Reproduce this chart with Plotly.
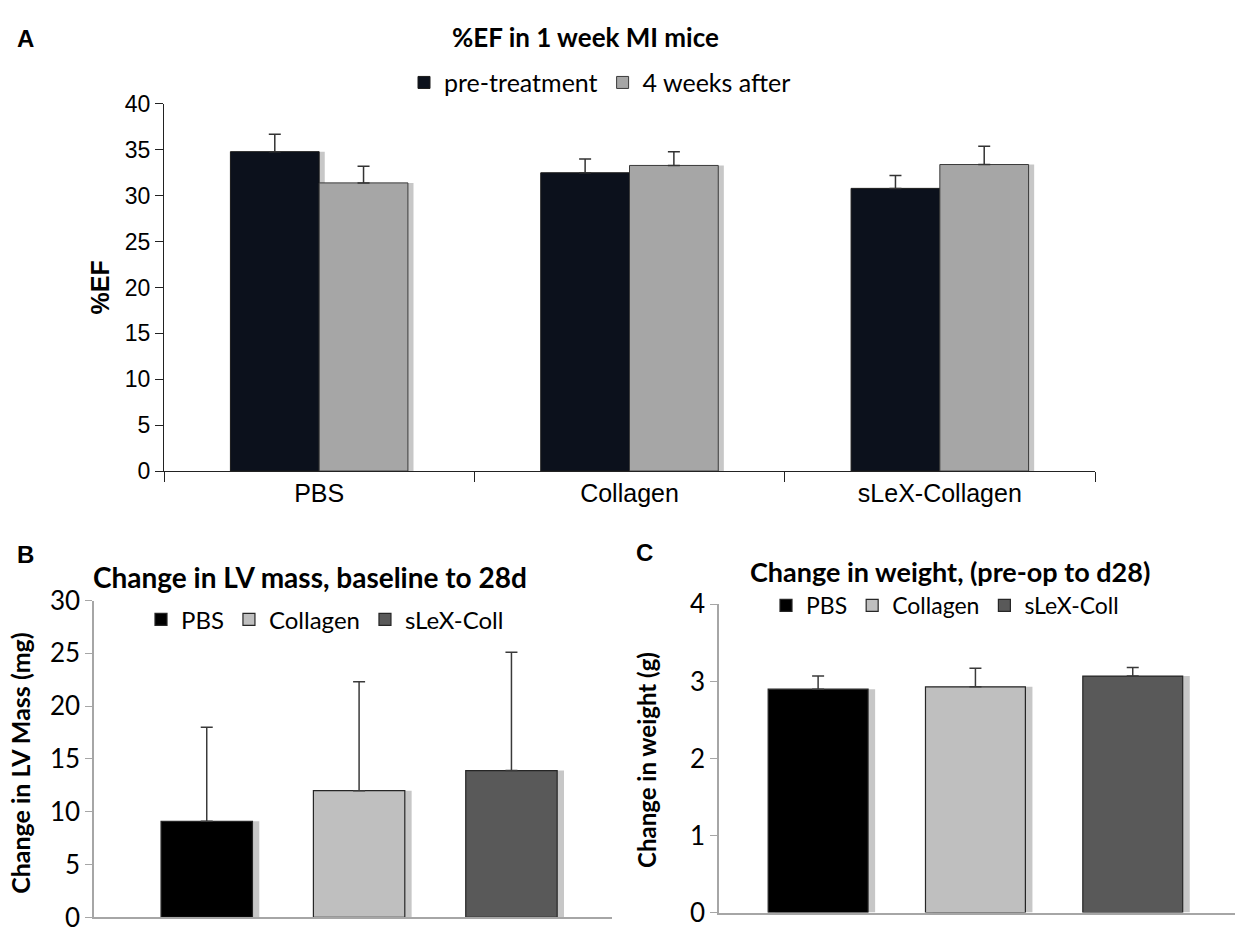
import plotly.graph_objects as go

W, H = 1243, 944

# ---- data ----
a_categories = ["PBS", "Collagen", "sLeX-Collagen"]
a_pre = [34.8, 32.5, 30.8]
a_pre_err = [1.9, 1.5, 1.4]
a_after = [31.4, 33.3, 33.4]
a_after_err = [1.8, 1.5, 2.0]

bc_groups = ["PBS", "Collagen", "sLeX-Coll"]
b_values = [9.1, 12.0, 13.9]
b_err = [8.9, 10.3, 11.2]
c_values = [2.90, 2.93, 3.07]
c_err = [0.17, 0.24, 0.11]

a_yticks = [0, 5, 10, 15, 20, 25, 30, 35, 40]
b_yticks = [0, 5, 10, 15, 20, 25, 30]
c_yticks = [0, 1, 2, 3, 4]


def fx(px):
    return px / W


def fy(py):
    return 1 - py / H


fig = go.Figure()
shadow = "rgba(0,0,0,0.22)"

# ---- Panel A ----
a_w = 0.286
for vals, off in ((a_pre, -a_w), (a_after, 0)):
    fig.add_trace(go.Bar(
        x=a_categories, y=vals, width=a_w, offset=off + 0.018,
        marker=dict(color=shadow, line=dict(width=0)), showlegend=False,
        hoverinfo="skip", xaxis="x", yaxis="y",
    ))
fig.add_trace(go.Bar(
    x=a_categories, y=a_pre, name="pre-treatment", width=a_w, offset=-a_w,
    marker=dict(color="#0c111c", line=dict(color="#1a1a1a", width=1)),
    error_y=dict(type="data", array=a_pre_err, arrayminus=[0] * 3, symmetric=False,
                 color="#333333", thickness=1.5, width=6),
    xaxis="x", yaxis="y", legend="legend",
))
fig.add_trace(go.Bar(
    x=a_categories, y=a_after, name="4 weeks after", width=a_w, offset=0,
    marker=dict(color="#a6a6a6", line=dict(color="#3a3a3a", width=1)),
    error_y=dict(type="data", array=a_after_err, arrayminus=[0] * 3, symmetric=False,
                 color="#333333", thickness=1.5, width=6),
    xaxis="x", yaxis="y", legend="legend",
))

# ---- Panels B and C ----
bc_colors = ["#000000", "#bfbfbf", "#595959"]
b_w = 0.6
c_w = 0.635
for vals, w, xa, ya in ((b_values, b_w, "x2", "y2"), (c_values, c_w, "x3", "y3")):
    fig.add_trace(go.Bar(
        x=bc_groups, y=vals, width=w, offset=-w / 2 + 0.045,
        marker=dict(color=shadow, line=dict(width=0)), showlegend=False,
        hoverinfo="skip", xaxis=xa, yaxis=ya,
    ))
for i, g in enumerate(bc_groups):
    fig.add_trace(go.Bar(
        x=[g], y=[b_values[i]], name=g, width=b_w, offset=-b_w / 2,
        marker=dict(color=bc_colors[i], line=dict(color="#262626", width=1.2)),
        error_y=dict(type="data", array=[b_err[i]], arrayminus=[0], symmetric=False,
                     color="#3a3a3a", thickness=1.5, width=6),
        xaxis="x2", yaxis="y2", legend="legend2",
    ))
for i, g in enumerate(bc_groups):
    fig.add_trace(go.Bar(
        x=[g], y=[c_values[i]], name=g, width=c_w, offset=-c_w / 2,
        marker=dict(color=bc_colors[i], line=dict(color="#262626", width=1.2)),
        error_y=dict(type="data", array=[c_err[i]], arrayminus=[0], symmetric=False,
                     color="#3a3a3a", thickness=1.5, width=6),
        xaxis="x3", yaxis="y3", legend="legend3",
    ))

arial = "Liberation Sans, Arial, sans-serif"
calibri = "Lato, Carlito, Calibri, sans-serif"

fig.update_layout(
    width=W, height=H,
    margin=dict(l=0, r=0, t=0, b=0),
    paper_bgcolor="white", plot_bgcolor="white",
    barmode="overlay",
    font=dict(family=calibri, color="#000000"),
    # Panel A axes
    xaxis=dict(domain=[fx(164), fx(1095)], anchor="y", range=[-0.5, 2.5],
               showline=True, linecolor="#222222", linewidth=1.3,
               ticks="outside", tickson="boundaries", ticklen=10, tickcolor="#222222",
               tickfont=dict(family=arial, size=25, color="#000000"),
               showgrid=False, zeroline=False),
    yaxis=dict(domain=[fy(470), fy(90)], anchor="x", range=[0, 40],
               tickvals=a_yticks, showline=True, linecolor="#222222", linewidth=1.3,
               ticks="outside", ticklen=8, tickcolor="#222222",
               tickfont=dict(family=arial, size=23, color="#000000"),
               showgrid=False, zeroline=False),
    # Panel B axes
    xaxis2=dict(domain=[fx(94), fx(612)], anchor="y2", range=[-0.74, 2.66],
                showline=True, linecolor="#a6a6a6", linewidth=1.5,
                showticklabels=False, ticks="", showgrid=False, zeroline=False),
    yaxis2=dict(domain=[fy(932), fy(604)], anchor="x2", range=[0, 30],
                tickvals=b_yticks, showline=True, linecolor="#a6a6a6", linewidth=1.5,
                ticks="outside", ticklen=7, tickcolor="#a6a6a6",
                tickfont=dict(family=calibri, size=26, color="#000000"),
                showgrid=False, zeroline=False),
    # Panel C axes
    xaxis3=dict(domain=[fx(719), fx(1235)], anchor="y3", range=[-0.63, 2.65],
                showline=True, linecolor="#a6a6a6", linewidth=1.5,
                showticklabels=False, ticks="", showgrid=False, zeroline=False),
    yaxis3=dict(domain=[fy(927), fy(608)], anchor="x3", range=[0, 4],
                tickvals=c_yticks, showline=True, linecolor="#a6a6a6", linewidth=1.5,
                ticks="outside", ticklen=7, tickcolor="#a6a6a6",
                tickfont=dict(family=calibri, size=26, color="#000000"),
                showgrid=False, zeroline=False),
    legend=dict(orientation="h", x=fx(600), y=fy(68), xanchor="center", yanchor="middle",
                font=dict(family=calibri, size=25, color="#000000"),
                bgcolor="rgba(0,0,0,0)", itemwidth=30, tracegroupgap=0),
    legend2=dict(orientation="h", x=fx(325), y=fy(624), xanchor="center", yanchor="middle",
                 font=dict(family=calibri, size=24, color="#000000"),
                 bgcolor="rgba(0,0,0,0)", itemwidth=30),
    legend3=dict(orientation="h", x=fx(945), y=fy(609), xanchor="center", yanchor="middle",
                 font=dict(family=calibri, size=23, color="#000000"),
                 bgcolor="rgba(0,0,0,0)", itemwidth=30),
    showlegend=True,
)

annotations = [
    dict(text="<b>A</b>", x=fx(25), y=fy(22), font=dict(family=arial, size=24)),
    dict(text="<b>B</b>", x=fx(25), y=fy(556), font=dict(family=arial, size=24)),
    dict(text="<b>C</b>", x=fx(644), y=fy(554), font=dict(family=arial, size=24)),
    dict(text="<b>%EF in 1 week MI mice</b>", x=fx(585), y=fy(21),
         font=dict(family=calibri, size=26)),
    dict(text="<b>%EF</b>", x=fx(100), y=fy(280), textangle=-90,
         font=dict(family=arial, size=25)),
    dict(text="<b>Change in LV mass, baseline to 28d</b>", x=fx(310), y=fy(580),
         font=dict(family=calibri, size=28)),
    dict(text="<b>Change in LV Mass (mg)</b>", x=fx(20), y=fy(772), textangle=-90,
         font=dict(family=calibri, size=25)),
    dict(text="<b>Change in weight, (pre-op to d28)</b>", x=fx(950), y=fy(574),
         font=dict(family=calibri, size=27)),
    dict(text="<b>Change in weight (g)</b>", x=fx(647), y=fy(769), textangle=-90,
         font=dict(family=calibri, size=24)),
]
for a in annotations:
    a.update(xref="paper", yref="paper", showarrow=False, xanchor="center", yanchor="middle")
fig.update_layout(annotations=annotations)

fig.write_html("out.html")
